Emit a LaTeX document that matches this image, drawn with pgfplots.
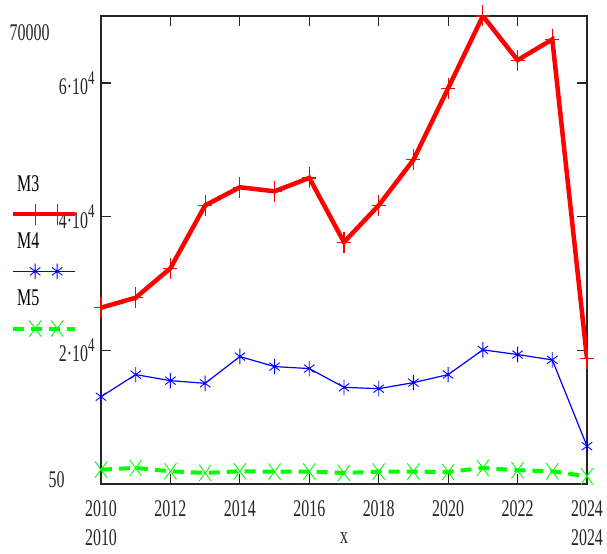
\documentclass[border=0pt]{standalone}
\usepackage{pgfplots}
\pgfplotsset{compat=1.18}
\usepackage{fontspec}
\setmainfont{Liberation Serif}
\usepackage{graphicx}
% Mathcad text looks tall and narrow
\newcommand{\st}[1]{\scalebox{1}[1.5]{#1}}
\newcommand{\pw}[1]{\st{#1·10\raisebox{0.42em}{\fontsize{13}{14}\selectfont 4}}}

\begin{document}
\begin{tikzpicture}
\begin{axis}[
  name=ax,
  width=486bp, height=468bp, scale only axis,
  xmin=2010, xmax=2024, ymin=50, ymax=70000,
  scaled ticks=false,
  axis line style={line width=1.3bp, black!85},
  tick align=inside, major tick length=10bp,
  tick style={line width=1.2bp, black!85},
  xtick={2010,2012,...,2024},
  xticklabels={\st{2010},\st{2012},\st{2014},\st{2016},\st{2018},\st{2020},\st{2022},\st{2024}},
  ytick={20000,40000,60000},
  yticklabels={\pw{2},\pw{4},\pw{6}},
  ticklabel style={font=\fontsize{16}{18}\selectfont, text=black!85},
  xticklabel style={yshift=-13bp},
  yticklabel style={xshift=-3bp},
  legend style={at={(axis description cs:-0.177,0.664)}, anchor=north west,
    draw=none, fill=none, font=\fontsize{16}{18}\selectfont,
    row sep=36bp, legend cell align=left, inner sep=0pt},
  legend image code/.code={\draw[#1, overlay, mark indices={2,3}]
    plot coordinates {(-2bp,-30bp) (20bp,-30bp) (42bp,-30bp) (60bp,-30bp)};},
]
\addplot[red, line width=4.5bp, mark=+, mark size=7bp, mark options={line width=1.2bp, yscale=1.5}]
  coordinates {
  (2010,26400) (2011,27900) (2012,32300) (2013,41700) (2014,44400)
  (2015,43800) (2016,45800) (2017,36200) (2018,41700) (2019,48500)
  (2020,59200) (2021,70000) (2022,63400) (2023,66500) (2024,18800)
  };
\addlegendentry{\st{M3}}

\addplot[blue, line width=1.2bp, mark=asterisk, mark size=6bp, mark options={line width=0.9bp, yscale=1.3}]
  coordinates {
  (2010,13100) (2011,16400) (2012,15500) (2013,15100) (2014,19100)
  (2015,17600) (2016,17300) (2017,14500) (2018,14300) (2019,15200)
  (2020,16400) (2021,20100) (2022,19400) (2023,18600) (2024,5700)
  };
\addlegendentry{\st{M4}}

\addplot[green, line width=4bp, dash pattern=on 11bp off 7bp, mark=x, mark size=8.5bp,
  mark options={solid, line width=0.9bp, yscale=1.35}]
  coordinates {
  (2010,2200) (2011,2450) (2012,1950) (2013,1700) (2014,1950)
  (2015,1900) (2016,1900) (2017,1700) (2018,1900) (2019,1900)
  (2020,1850) (2021,2450) (2022,2100) (2023,1950) (2024,1200)
  };
\addlegendentry{\st{M5}}
\end{axis}

\begin{scope}[font=\fontsize{16}{18}\selectfont, text=black!85]
\node[anchor=east] at ([shift={(-48bp,-17bp)}]ax.north west) {\st{70000}};
\node[anchor=east] at ([shift={(-33bp,4bp)}]ax.south west) {\st{50}};
\node at ([yshift=-54bp]ax.south west) {\st{2010}};
\node at ([yshift=-54bp]ax.south) {\st{x}};
\node at ([yshift=-54bp]ax.south east) {\st{2024}};
\end{scope}

\pgfresetboundingbox
\path[use as bounding box] ([shift={(-101bp,-70bp)}]ax.south west) rectangle ([shift={(20bp,16bp)}]ax.north east);
\end{tikzpicture}
\end{document}
